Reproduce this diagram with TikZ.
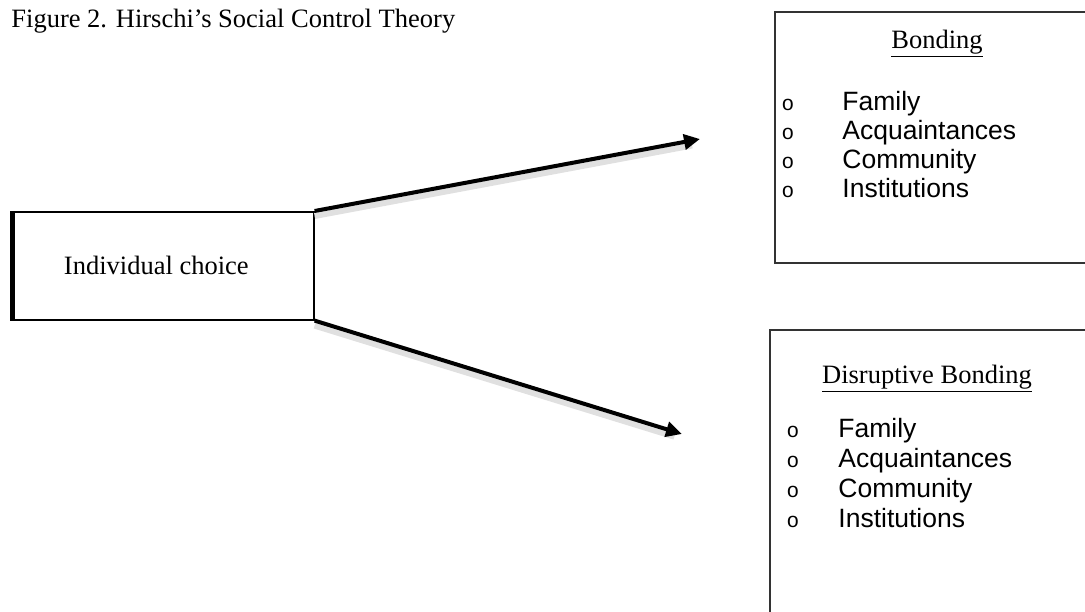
\documentclass[tikz,border=0pt]{standalone}
\usepackage{fontspec}
\setmainfont{Liberation Serif}
\newfontfamily\listfont{Liberation Sans}
\newfontfamily\bulletfont{Liberation Mono}
\usetikzlibrary{arrows.meta,positioning}

\tikzset{
    bigbox/.style={draw=black!80, line width=0.8pt, rectangle, inner sep=0pt, anchor=north west},
    choicebox/.style={draw=black, line width=0.8pt, rectangle, inner sep=0pt, anchor=north west,
        minimum width=150.5pt, minimum height=54pt, font=\fontsize{13.25}{15}\selectfont},
    header/.style={anchor=base, inner sep=0pt, font=\fontsize{13.25}{15}\selectfont},
    bulletmark/.style={anchor=base, inner sep=0pt, font=\bulletfont\fontsize{10.5}{12}\selectfont},
    itemtext/.style={anchor=base west, inner sep=0pt, font=\listfont\fontsize{13.25}{15}\selectfont},
    link/.style={line width=2pt, -{Triangle[length=8pt, width=7.5pt]}},
    linkshadow/.style={line width=3pt, black!12, shorten >=4pt}
}

\begin{document}
\begin{tikzpicture}[x=0.5pt, y=-0.5pt]
    \useasboundingbox (0,0) rectangle (1085,611);

    % title
    \node[anchor=base west, inner sep=0pt, font=\fontsize{13.25}{15}\selectfont] (title) at (11,27)
        {Figure 2. Hirschi’s Social Control Theory};

    % left box
    \node[choicebox] (choice) at (12,211) {\hspace*{-7pt}Individual choice};
    \draw[line width=2.5pt] (choice.north west) -- (choice.south west);

    % right boxes
    \node[bigbox, minimum width=165pt, minimum height=125.5pt] (bond) at (774,11) {};
    \node[bigbox, minimum width=170pt, minimum height=150pt] (disrupt) at (769,329) {};

    \node[header] (bondhead) at (937,48) {\underline{Bonding}};
    \node[header] (disrupthead) at (927,383) {\underline{Disruptive Bonding}};

    % lists
    \foreach \txt [count=\i] in {Family,Acquaintances,Community,Institutions} {
        \node[bulletmark] (bb\i) at (788,110+29.3*\i-29.3) {o};
        \node[itemtext] (bt\i) at (842,110+29.3*\i-29.3) {\txt};
        \node[bulletmark] (db\i) at (793,437+30*\i-30) {o};
        \node[itemtext] (dt\i) at (838,437+30*\i-30) {\txt};
    }

    % arrows
    \coordinate (uptip) at (700,139);
    \coordinate (downtip) at (682,434);
    \draw[linkshadow, transform canvas={yshift=-2.5pt}] (choice.north east) -- (uptip);
    \draw[linkshadow, transform canvas={yshift=-2.5pt}] (choice.south east) -- (downtip);
    \draw[link] (choice.north east) -- (uptip);
    \draw[link] (choice.south east) -- (downtip);
\end{tikzpicture}
\end{document}
